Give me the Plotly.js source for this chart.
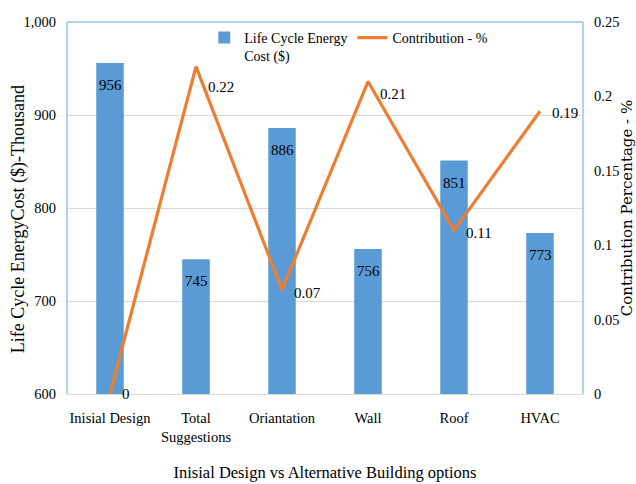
<!DOCTYPE html>
<html>
<head>
<meta charset="utf-8">
<script src="https://cdn.plot.ly/plotly-3.0.1.min.js"></script>
<style>
  html, body { margin: 0; padding: 0; background: #ffffff; }
  #chart { width: 636px; height: 484px; }
</style>
</head>
<body>
<div id="chart"></div>
<script>
// Building options compared against the initial design
const categories = ["Inisial Design", "Total<br>Suggestions", "Oriantation", "Wall", "Roof", "HVAC"];
// Life cycle energy cost, thousands of dollars
const lifeCycleCost = [956, 745, 886, 756, 851, 773];
// Contribution of each option, fraction
const contribution = [0, 0.22, 0.07, 0.21, 0.11, 0.19];
const leftTicks = [600, 700, 800, 900, 1000];
const rightTicks = [0, 0.05, 0.1, 0.15, 0.2, 0.25];
const rightTickText = ["0", "0.05", "0.1", "0.15", "0.2", "0.25"];
const leftTitle = "Life Cycle EnergyCost ($)-Thousand";

const FONT = "'Liberation Serif', 'Times New Roman', serif";
const BLUE = "#5B9BD5";
const ORANGE = "#ED7D31";
const FRAME = "#9DC3E6";

// vertical nudge (px) of each contribution label, so peaks read clear of the line
const lineLabelShift = [0, -20, -3, -12, -3, -2];

const bars = {
  type: "bar",
  name: "Life Cycle Energy<br>Cost ($)",
  x: categories,
  y: lifeCycleCost,
  width: 0.32,
  marker: { color: BLUE },
  hoverinfo: "x+y"
};

const line = {
  type: "scatter",
  mode: "lines",
  name: "Contribution - %",
  x: categories,
  y: contribution,
  yaxis: "y2",
  line: { color: ORANGE, width: 3.2 },
  cliponaxis: false
};

// value labels: cost just inside the top of each bar, contribution to the right of each point
const barLabels = categories.map((c, i) => ({
  x: c, y: lifeCycleCost[i], xref: "x", yref: "y",
  text: String(lifeCycleCost[i]),
  showarrow: false, xanchor: "center", yanchor: "middle", yshift: -22,
  font: { family: FONT, size: 15, color: "#000000" }
}));
const lineLabels = categories.map((c, i) => ({
  x: c, y: contribution[i], xref: "x", yref: "y2",
  text: String(contribution[i]),
  showarrow: false, xanchor: "left", yanchor: "middle",
  xshift: 10, yshift: lineLabelShift[i],
  font: { family: FONT, size: 15, color: "#000000" }
}));

// left axis title, set in the margin beside the cost tick labels
const leftTitleNote = {
  xref: "paper", yref: "paper", x: -0.095, y: 0.47,
  text: leftTitle, textangle: -90, showarrow: false,
  xanchor: "center", yanchor: "middle",
  font: { family: FONT, size: 18, color: "#000000" }
};

const layout = {
  width: 636,
  height: 484,
  margin: { l: 67, r: 53, t: 22, b: 90, pad: 0 },
  paper_bgcolor: "#ffffff",
  plot_bgcolor: "#ffffff",
  font: { family: FONT, size: 14, color: "#000000" },
  showlegend: true,
  legend: {
    orientation: "h",
    x: 0.266,
    y: 1.0,
    xanchor: "left",
    yanchor: "top",
    valign: "top",
    bgcolor: "rgba(0,0,0,0)",
    font: { family: FONT, size: 14, color: "#000000" },
    itemwidth: 30,
    tracegroupgap: 0
  },
  xaxis: {
    type: "category",
    tickfont: { family: FONT, size: 14.5, color: "#000000" },
    showline: true,
    linecolor: "#d9d9d9",
    linewidth: 1,
    ticks: "",
    ticklabelstandoff: 11,
    showgrid: false,
    title: { text: "Inisial Design vs Alternative Building options", font: { family: FONT, size: 16.5, color: "#000000" }, standoff: 22 },
    automargin: false
  },
  yaxis: {
    range: [600, 1000],
    tickvals: leftTicks,
    tickformat: ",d",
    tickfont: { family: FONT, size: 14.5, color: "#000000" },
    showgrid: true,
    gridcolor: "#d9d9d9",
    gridwidth: 1,
    zeroline: false,
    showline: false,
    ticks: "",
    ticklabelstandoff: 10,
    automargin: false
  },
  yaxis2: {
    overlaying: "y",
    side: "right",
    range: [0, 0.25],
    tickvals: rightTicks,
    ticktext: rightTickText,
    tickfont: { family: FONT, size: 14.5, color: "#000000" },
    showgrid: false,
    zeroline: false,
    showline: false,
    ticks: "",
    ticklabelstandoff: 10,
    title: { text: "Contribution Percentage - %", font: { family: "'DejaVu Serif', serif", size: 15, color: "#000000" }, standoff: 4 },
    automargin: false
  },
  annotations: barLabels.concat(lineLabels, [leftTitleNote]),
  shapes: [
    { type: "line", xref: "paper", yref: "paper", x0: 0, x1: 0, y0: 0, y1: 1, line: { color: FRAME, width: 1.5 } },
    { type: "line", xref: "paper", yref: "paper", x0: 0, x1: 1, y0: 1, y1: 1, line: { color: FRAME, width: 1.5 } },
    { type: "line", xref: "paper", yref: "paper", x0: 1, x1: 1, y0: 0, y1: 1, line: { color: FRAME, width: 1.5 } }
  ]
};

Plotly.newPlot("chart", [bars, line], layout, { displayModeBar: false, staticPlot: true });
</script>
</body>
</html>
